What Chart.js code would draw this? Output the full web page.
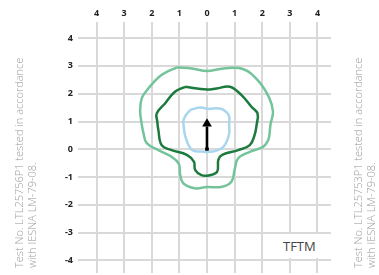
<!DOCTYPE html>
<html>
<head>
<meta charset="utf-8">
<script src="https://cdn.jsdelivr.net/npm/chart.js@4/dist/chart.umd.min.js"></script>
<style>
  html, body { margin:0; padding:0; background:#fff; }
  #wrap { position:relative; width:379px; height:275px; overflow:hidden; }
  canvas { position:absolute; left:0; top:0; }
  .side { position:absolute; left:0; top:0; width:250px; transform-origin:0 0;
          font-family:"Open Sans", sans-serif; font-size:11px; line-height:13px;
          color:#9c9c9c; white-space:nowrap; font-weight:300; }
  #tag { position:absolute; left:266px; top:234px; width:66px; height:24px; background:#fff;
         font-family:"Open Sans", sans-serif; font-size:13px; line-height:24px; color:#444; }
  #tag span { position:absolute; left:17px; top:0; }
</style>
</head>
<body>
<div id="wrap">
  <canvas id="chart" width="379" height="275"></canvas>
  <div class="side" style="transform:translate(12px,268px) rotate(-90deg)">Test No. LTL25756P1 tested in accordance<br>with IESNA LM-79-08.</div>
  <div class="side" style="transform:translate(351px,268px) rotate(-90deg)">Test No. LTL25753P1 tested in accordance<br>with IESNA LM-79-08.</div>
  <div id="tag"><span>TFTM</span></div>
</div>
<script>
// tick values (x labels shown as absolute values)
const xTicks = [-4, -3, -2, -1, 0, 1, 2, 3, 4];
const yTicks = [-4, -3, -2, -1, 0, 1, 2, 3, 4];

// outer contour (light green)
const outerX = [-1.09, -0.55, 0.0, 0.6, 1.3, 1.85, 2.25, 2.39, 2.3, 2.25, 2.2, 2.03, 1.55, 1.13, 1.0, 0.89, 0.55, 0.0, -0.45, -0.86, -0.97, -1.02, -1.28, -1.76, -2.18, -2.3, -2.37, -2.42, -2.36, -2.12, -1.65, -1.09];
const outerY = [2.95, 2.91, 2.82, 2.91, 2.89, 2.47, 1.86, 1.35, 0.9, 0.45, 0.3, 0.09, -0.09, -0.32, -0.74, -1.16, -1.35, -1.36, -1.4, -1.22, -0.92, -0.52, -0.27, -0.03, 0.22, 0.58, 0.95, 1.38, 1.84, 2.19, 2.67, 2.95];

// middle contour (dark green)
const midX = [-0.79, 0.0, 0.35, 0.83, 1.25, 1.61, 1.83, 1.8, 1.72, 1.55, 1.13, 0.55, 0.41, 0.37, 0.1, -0.2, -0.43, -0.47, -0.73, -1.28, -1.64, -1.76, -1.8, -1.82, -1.52, -1.16, -0.79];
const midY = [2.25, 2.15, 2.19, 2.25, 1.95, 1.53, 1.29, 0.9, 0.5, 0.15, -0.03, -0.2, -0.38, -0.8, -0.93, -0.93, -0.74, -0.45, -0.2, -0.03, 0.15, 0.69, 1.0, 1.29, 1.65, 2.07, 2.25];

// inner contour (light blue)
const innerX = [-0.6, -0.25, 0.1, 0.35, 0.6, 0.8, 0.8, 0.8, 0.6, 0.2, -0.2, -0.55, -0.78, -0.85, -0.85, -0.75, -0.6];
const innerY = [1.42, 1.5, 1.45, 1.48, 1.42, 1.2, 0.9, 0.55, 0.1, -0.08, -0.08, -0.02, 0.45, 0.9, 1.05, 1.25, 1.42];

// arrow: shaft from origin, head position
const shaftY = [0, 0.82];
const headY = 0.92;

const pts = (xs, ys) => xs.map((x, i) => ({ x, y: ys[i] }));

function contour(xs, ys, color) {
  return { data: pts(xs, ys), showLine: true, borderColor: color, borderWidth: 2.5,
           pointRadius: 0, tension: 0.4, fill: false };
}

function noPad(s) {
  s.paddingTop = 0; s.paddingBottom = 0; s.paddingLeft = 0; s.paddingRight = 0;
}

new Chart(document.getElementById('chart').getContext('2d'), {
  type: 'scatter',
  data: {
    datasets: [
      contour(outerX, outerY, '#74c49b'),
      contour(midX, midY, '#1b7a3c'),
      contour(innerX, innerY, '#a9d6ee'),
      { data: pts([0, 0], shaftY), showLine: true, borderColor: '#000', borderWidth: 2.6,
        pointRadius: [2.6, 0], pointStyle: 'rect', backgroundColor: '#000', pointBorderWidth: 0 },
      { data: [{ x: 0, y: headY }], pointStyle: 'triangle', pointRadius: 5.6,
        backgroundColor: '#000', borderColor: '#000', borderWidth: 0 }
    ]
  },
  options: {
    responsive: false,
    animation: false,
    events: [],
    layout: { autoPadding: false, padding: { left: 0, right: 48, top: 0, bottom: 2 } },
    plugins: { legend: { display: false }, tooltip: { enabled: false } },
    scales: {
      x: {
        type: 'linear', position: 'top', min: -4.67, max: 4.49,
        afterBuildTicks: s => { s.ticks = xTicks.map(v => ({ value: v })); },
        afterFit: s => { s.height = 22; noPad(s); },
        grid: { color: '#d9d9d9', lineWidth: 2, drawTicks: false },
        border: { display: false },
        ticks: { padding: 3, color: '#222', font: { family: 'Open Sans', size: 9, weight: 'bold' },
                 callback: v => Math.abs(v) }
      },
      y: {
        type: 'linear', position: 'left', min: -4.45, max: 4.58,
        afterBuildTicks: s => { s.ticks = yTicks.map(v => ({ value: v })); },
        afterFit: s => { s.width = 78; noPad(s); },
        grid: { color: '#d9d9d9', lineWidth: 2, drawTicks: false },
        border: { display: false },
        ticks: { padding: 5, color: '#222', font: { family: 'Open Sans', size: 9, weight: 'bold' } }
      }
    }
  }
});
</script>
</body>
</html>
